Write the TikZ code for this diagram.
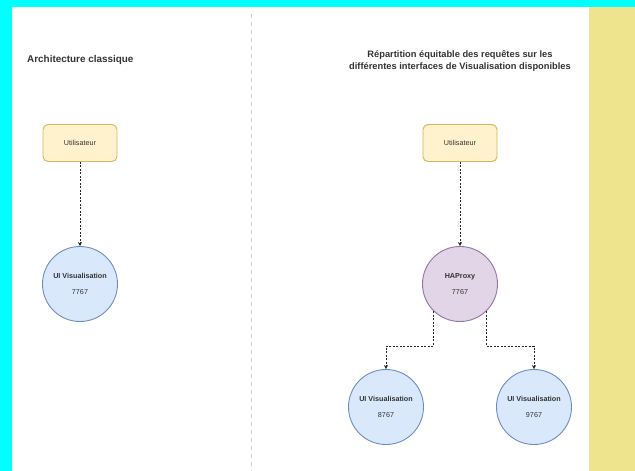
\documentclass[tikz,border=0pt]{standalone}
\usepackage{fontspec}
\setmainfont{Liberation Sans}
\usetikzlibrary{arrows.meta}

\definecolor{cadre}{HTML}{00FFFF}
\definecolor{kaki}{HTML}{EEE48E}
\definecolor{texte}{HTML}{333333}
\definecolor{userfill}{HTML}{FFF2CC}
\definecolor{userdraw}{HTML}{D6B656}
\definecolor{uifill}{HTML}{DAE8FC}
\definecolor{uidraw}{HTML}{6C8EBF}
\definecolor{hapfill}{HTML}{E1D5E7}
\definecolor{hapdraw}{HTML}{9673A6}

\tikzset{
    userbox/.style={draw=userdraw, fill=userfill, rounded corners=5pt, line width=0.9pt,
        minimum width=74pt, minimum height=37pt, font=\fontsize{7.2}{8.5}\selectfont, text=texte},
    uinode/.style={circle, draw=uidraw, fill=uifill, line width=0.9pt, minimum size=75pt,
        inner sep=0pt, align=center, font=\fontsize{7.2}{8.5}\selectfont, text=texte},
    hapnode/.style={uinode, draw=hapdraw, fill=hapfill},
    lien/.style={->, dashed, dash pattern=on 2pt off 1.5pt, line width=0.5pt, draw=black!85},
    titre/.style={font=\bfseries\fontsize{9.9}{12}\selectfont, text=texte, align=center, inner sep=0pt}
}

\begin{document}
\begin{tikzpicture}[>={Stealth[length=4pt,width=4pt]}, x=1pt, y=-1pt]
\useasboundingbox (0, 0) rectangle (635, 471);

%% fond
\fill [cadre] (0, 0) rectangle (635, 471);
\fill [white] (12, 7) rectangle (589, 471);
\fill [kaki] (589, 7) rectangle (635, 471);
\draw [gray!40, dashed, dash pattern=on 4pt off 4pt, line width=0.8pt] (251, 14) -- (251, 471);

%% premier region
\begin{scope}
    \node [titre, anchor=west] (titreA) at (27, 60) {Architecture classique};
    \node [userbox] (userA) at (80, 143) {Utilisateur};
    \node [uinode] (uiA) at (80, 284) {\textbf{UI Visualisation}\\[7.5pt] 7767};
    \draw [lien] (userA) -- (uiA);
\end{scope}

%% deuxieme region
\begin{scope}
    \node [titre, font=\bfseries\fontsize{9.3}{12}\selectfont] (titreB) at (460, 61) {Répartition équitable des requêtes sur les\\différentes interfaces de Visualisation disponibles};
    \node [userbox] (userB) at (460, 143) {Utilisateur};
    \node [hapnode] (hap) at (460, 284) {\textbf{HAProxy}\\[7.5pt] 7767};
    \node [uinode] (uiB) at (386, 407) {\textbf{UI Visualisation}\\[7.5pt] 8767};
    \node [uinode] (uiC) at (534, 407) {\textbf{UI Visualisation}\\[7.5pt] 9767};
    \coordinate (split) at (460, 346);

    \draw [lien] (userB) -- (hap);
    \draw [lien] (hap.-134) -- (hap.-134 |- split) -| (uiB.north);
    \draw [lien] (hap.-46) -- (hap.-46 |- split) -| (uiC.north);
\end{scope}

\end{tikzpicture}
\end{document}
